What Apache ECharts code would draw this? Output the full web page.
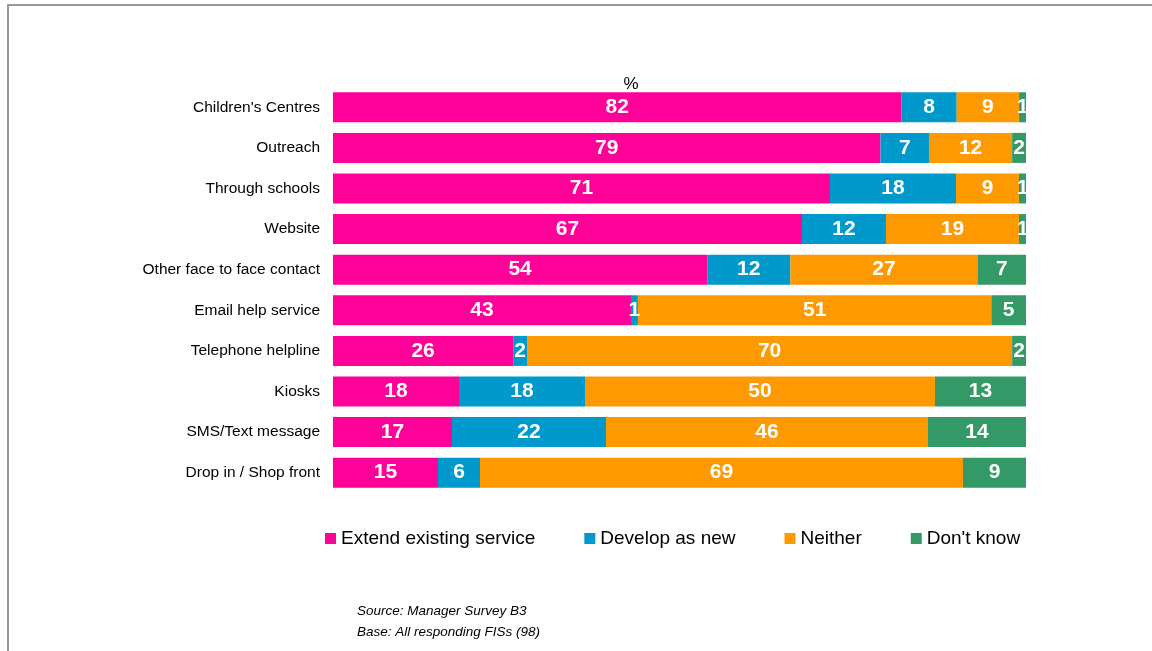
<!DOCTYPE html>
<html>
<head>
<meta charset="utf-8">
<title>Preferred channels</title>
<script src="https://cdn.jsdelivr.net/npm/echarts@6/dist/echarts.min.js"></script>
<style>
  html, body { margin: 0; padding: 0; background: #fff; }
  #chart { width: 1152px; height: 651px; }
</style>
</head>
<body>
<div id="chart"></div>
<script>
// Channels, top to bottom
const categories = [
  "Children's Centres", "Outreach", "Through schools", "Website",
  "Other face to face contact", "Email help service", "Telephone helpline",
  "Kiosks", "SMS/Text message", "Drop in / Shop front"
];

// Percentages of responding FISs
const extendExisting = [82, 79, 71, 67, 54, 43, 26, 18, 17, 15];
const developNew     = [8, 7, 18, 12, 12, 1, 2, 18, 22, 6];
const neither        = [9, 12, 9, 19, 27, 51, 70, 50, 46, 69];
const dontKnow       = [1, 2, 1, 1, 7, 5, 2, 13, 14, 9];

const seriesNames = ['Extend existing service', 'Develop as new', 'Neither', "Don't know"];
const seriesColors = ['#FF0099', '#0099CC', '#FF9900', '#339966'];
const seriesValues = [extendExisting, developNew, neither, dontKnow];

// Each row is shown as a full 100% bar (rounded figures may sum to 99)
const rowTotals = categories.map((_, i) =>
  seriesValues.reduce((s, arr) => s + arr[i], 0));

const font = 'Liberation Sans, Arial, sans-serif';

const chart = echarts.init(document.getElementById('chart'), null, { renderer: 'canvas' });

const series = seriesValues.map((vals, k) => ({
  name: seriesNames[k],
  type: 'bar',
  stack: 'total',
  barCategoryGap: '26%',
  itemStyle: { color: seriesColors[k] },
  label: {
    show: true,
    position: 'inside',
    color: '#fff',
    fontFamily: font,
    fontWeight: 'bold',
    fontSize: 21,
    formatter: p => vals[p.dataIndex]
  },
  emphasis: { disabled: true },
  data: vals.map((v, i) => v / rowTotals[i] * 100)
}));

chart.setOption({
  animation: false,
  backgroundColor: '#fff',
  textStyle: { fontFamily: font },
  grid: {
    left: 333, right: 126, top: 87, bottom: 158,
    containLabel: false, outerBoundsMode: 'none'
  },
  xAxis: {
    type: 'value', min: 0, max: 100, show: false
  },
  yAxis: {
    type: 'category',
    inverse: true,
    data: categories,
    axisLine: { show: false },
    axisTick: { show: false },
    axisLabel: { color: '#000', fontSize: 15.5, fontFamily: font, margin: 13 }
  },
  legend: {
    left: 325, top: 529, padding: 0,
    itemWidth: 11, itemHeight: 11, itemGap: 49,
    icon: 'rect',
    selectedMode: false,
    textStyle: { fontSize: 19, color: '#000', fontFamily: font },
    data: seriesNames
  },
  graphic: [
    { type: 'rect', shape: { x: 7, y: 4, width: 1145, height: 2 }, style: { fill: '#999' }, silent: true },
    { type: 'rect', shape: { x: 7, y: 4, width: 2, height: 647 }, style: { fill: '#999' }, silent: true },
    { type: 'text', x: 631, y: 84, style: { text: '%', fill: '#000', font: '17px ' + font, textAlign: 'center', textVerticalAlign: 'middle' } },
    { type: 'text', x: 357, y: 611, style: { text: 'Source: Manager Survey B3', fill: '#000', font: 'italic 13.5px ' + font, textVerticalAlign: 'middle' } },
    { type: 'text', x: 357, y: 632, style: { text: 'Base: All responding FISs (98)', fill: '#000', font: 'italic 13.5px ' + font, textVerticalAlign: 'middle' } }
  ],
  series: series
});
</script>
</body>
</html>
